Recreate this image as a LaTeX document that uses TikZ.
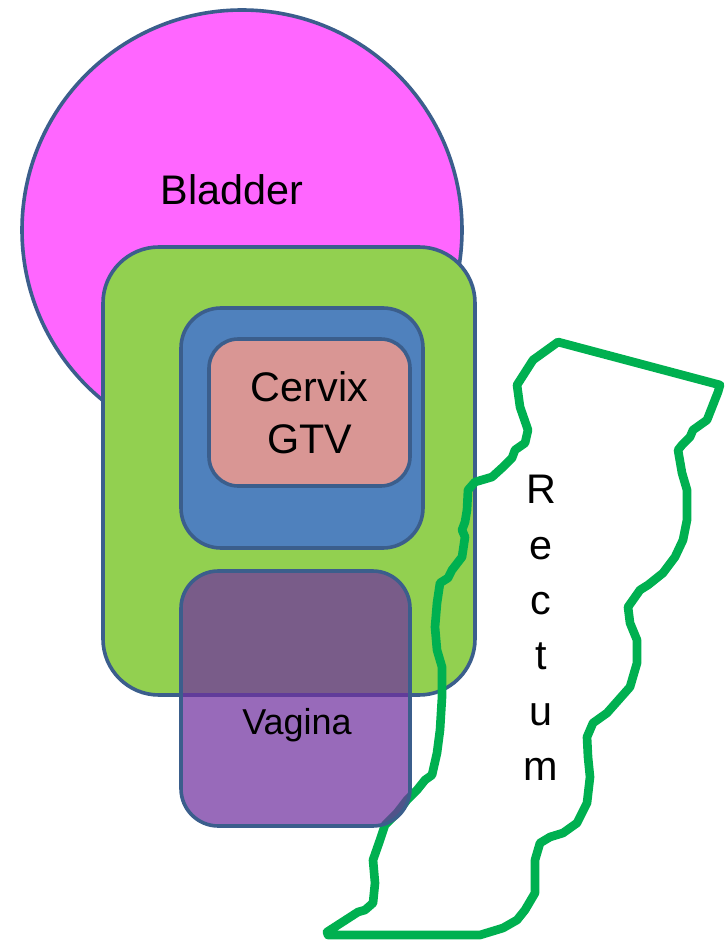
\documentclass[tikz,border=0pt]{standalone}
\usepackage{fontspec}
\setmainfont{Liberation Sans}
\usepackage{xcolor}
\usepackage{tikz}
\usetikzlibrary{shapes.geometric, positioning}
\definecolor{organline}{RGB}{59, 94, 140}
\definecolor{bladderfill}{RGB}{255, 102, 255}
\definecolor{ptvfill}{RGB}{146, 208, 80}
\definecolor{ctvfill}{RGB}{79, 129, 189}
\definecolor{gtvfill}{RGB}{217, 150, 148}
\definecolor{vaginafill}{RGB}{112, 48, 160}
\definecolor{rectumline}{RGB}{0, 176, 80}
\tikzset{
  x=0.75pt, y=-0.75pt,
  bigtext/.style={font=\fontsize{31}{39}\selectfont, align=center, inner sep=0pt},
  organblock/.style={
    rectangle, draw=organline, line width=2.7pt, inner sep=0pt
  },
  bladderblock/.style={circle, draw=organline, line width=2.7pt, fill=bladderfill, inner sep=0pt},
  rectumpath/.style={draw=rectumline, line width=6.5pt, line join=round, line cap=round}
}
\begin{document}
\begin{tikzpicture}
  \useasboundingbox (0,0) rectangle (727,944);

  % Bladder
  \node[bladderblock, minimum size=330pt] (bladder) at (242,230) {};
  \node[bigtext] (bladder_txt) at (232,190) {Bladder};

  % Target volumes
  \node[organblock, fill=ptvfill, rounded corners=42pt, minimum width=279pt, minimum height=336pt] (ptv) at (289,471) {};
  \node[organblock, fill=ctvfill, rounded corners=30pt, minimum width=181.5pt, minimum height=180pt] (ctv) at (302,428) {};
  \node[organblock, fill=gtvfill, rounded corners=22pt, minimum width=150.75pt, minimum height=110.25pt, bigtext] (gtv) at (309.5,412.5) {Cervix\\GTV};

  % Rectum
  \draw[rectumpath] (558,342) coordinate (rect_top) -- (720,385) -- (718,392) -- (707,420) -- (693,430) -- (690,437)
    -- (682,445) -- (678,450) -- (682,473) -- (687,490) -- (687,520) -- (683,540) -- (675,557) -- (663,573)
    -- (648,585) -- (640,590) -- (628,607) -- (630,623) -- (637,640) -- (637,663) -- (630,687) -- (607,713)
    -- (593,723) -- (587,737) -- (588,757) -- (590,777) -- (587,803) -- (577,823) -- (563,833) -- (550,837)
    -- (540,843) -- (535,860) -- (535,893) -- (525,910) -- (517,920) -- (503,928) -- (480,935) -- (328,935)
    -- (327,932) -- (358,912) -- (365,910) -- (373,903) -- (375,883) -- (373,860) -- (380,840) -- (385,825)
    -- (397,813) -- (407,800) -- (417,790) -- (425,780) -- (432,775) -- (437,753) -- (440,730) -- (442,697)
    -- (442,667) -- (437,650) -- (435,627) -- (437,603) -- (440,583) -- (448,578) -- (452,570) -- (462,557)
    -- (465,537) -- (462,530) -- (465,522) -- (467,510) -- (468,490) -- (475,482) -- (492,477) -- (503,467)
    -- (512,458) -- (515,450) -- (525,443) -- (528,430) -- (520,407) -- (517,385) -- (533,360) -- cycle;
  \node[font=\fontsize{31}{41.5}\selectfont, align=center, inner sep=0pt] (rectum_txt) at (541,628) {R\\e\\c\\t\\u\\m};

  % Vagina
  \node[organblock, fill=vaginafill, fill opacity=0.72, rounded corners=28pt, minimum width=171.75pt, minimum height=191.25pt] (vagina) at (295.5,698.5) {};
  \node[font=\fontsize{27}{32}\selectfont, inner sep=0pt] (vagina_txt) at (297,725) {Vagina};

\end{tikzpicture}
\end{document}
